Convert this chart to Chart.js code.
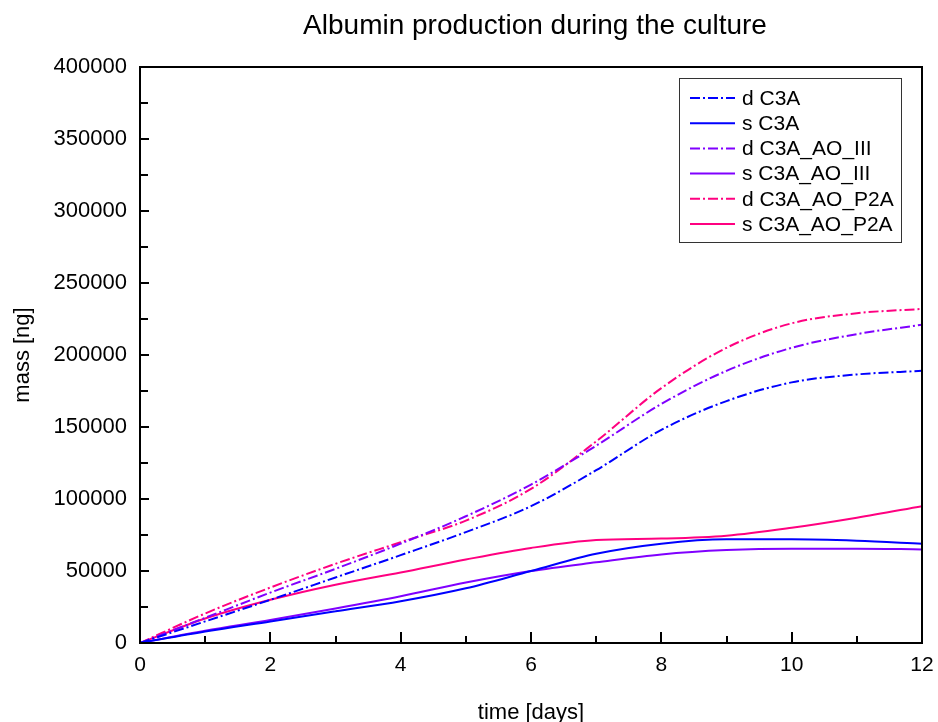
<!DOCTYPE html>
<html>
<head>
<meta charset="utf-8">
<title>Albumin production during the culture</title>
<script src="https://cdn.jsdelivr.net/npm/chart.js@4.4.1/dist/chart.umd.min.js"></script>
<style>
  html, body { margin: 0; padding: 0; background: #fff; }
</style>
</head>
<body>
<canvas id="albuminChart" width="938" height="722"></canvas>
<script>
// culture time in days
const days = [0, 1, 2, 3, 4, 5, 6, 7, 8, 9, 10, 11, 12];

// albumin mass [ng], d = dynamic, s = static culture
const dC3A      = [0, 15000, 30000, 45500, 61000, 77000, 95000, 120000, 148000, 168000, 181000, 186500, 189000];
const sC3A      = [0, 8000, 15000, 22000, 29000, 38000, 50000, 62000, 69000, 72000, 72000, 71000, 69000];
const dC3A_III  = [0, 17500, 35000, 51500, 69000, 88000, 110000, 137000, 166000, 189000, 205000, 214500, 221000];
const sC3A_III  = [0, 8500, 16000, 24000, 32500, 42000, 50000, 56000, 61500, 64500, 65500, 65500, 65000];
const dC3A_P2A  = [0, 20500, 38500, 55000, 70000, 85000, 107000, 140000, 177000, 205000, 222000, 229000, 232000];
const sC3A_P2A  = [0, 17000, 30000, 40500, 49000, 58000, 66000, 71500, 72500, 74500, 80000, 87000, 95000];

const seriesNames = ['d C3A', 's C3A', 'd C3A_AO_III', 's C3A_AO_III', 'd C3A_AO_P2A', 's C3A_AO_P2A'];
const seriesData = [dC3A, sC3A, dC3A_III, sC3A_III, dC3A_P2A, sC3A_P2A];
const seriesColors = ['#0000ff', '#0000ff', '#8000ff', '#8000ff', '#ff0080', '#ff0080'];

const yTicks = [0, 50000, 100000, 150000, 200000, 250000, 300000, 350000, 400000];
const xTicks = [0, 2, 4, 6, 8, 10, 12];

const FONT = "'Liberation Sans', Arial, sans-serif";
const dashDot = [10, 3, 2, 3];

Chart.defaults.font.family = FONT;
Chart.defaults.color = '#000';

// title centred over the plot area
const plotTitle = {
  id: 'plotTitle',
  afterDraw(chart) {
    const {ctx, chartArea} = chart;
    ctx.save();
    ctx.font = '28px ' + FONT;
    ctx.fillStyle = '#000';
    ctx.textAlign = 'center';
    ctx.textBaseline = 'alphabetic';
    ctx.fillText('Albumin production during the culture', (chartArea.left + chartArea.right) / 2 + 4, 34);
    ctx.restore();
  }
};

// closed frame with inward major/minor ticks on bottom and left axes
const frameTicks = {
  id: 'frameTicks',
  afterDatasetsDraw(chart) {
    const {ctx, chartArea: a, scales: {x, y}} = chart;
    ctx.save();
    ctx.strokeStyle = '#000';
    ctx.lineWidth = 2;
    ctx.strokeRect(a.left, a.top, a.right - a.left, a.bottom - a.top);
    ctx.beginPath();
    for (let d = x.min; d <= x.max; d += 1) {
      const px = Math.round(x.getPixelForValue(d));
      const len = d % 2 === 0 ? 11 : 7;
      ctx.moveTo(px, a.bottom);
      ctx.lineTo(px, a.bottom - len);
    }
    for (let v = y.min; v <= y.max; v += 25000) {
      const py = Math.round(y.getPixelForValue(v));
      const len = v % 50000 === 0 ? 9 : 8;
      ctx.moveTo(a.left, py);
      ctx.lineTo(a.left + len, py);
    }
    ctx.stroke();
    ctx.restore();
  }
};

// boxed legend inside the upper right corner of the plot
const innerLegend = {
  id: 'innerLegend',
  afterDraw(chart) {
    const {ctx, chartArea: a} = chart;
    const w = 222, h = 164, rowH = 25.2;
    const left = a.right - 21 - w, top = a.top + 11;
    ctx.save();
    ctx.fillStyle = '#fff';
    ctx.fillRect(left, top, w, h);
    ctx.strokeStyle = '#333';
    ctx.lineWidth = 1;
    ctx.strokeRect(left + 0.5, top + 0.5, w, h);
    ctx.font = '21px ' + FONT;
    ctx.textBaseline = 'middle';
    ctx.textAlign = 'left';
    chart.data.datasets.forEach((ds, i) => {
      const cy = top + 20 + i * rowH;
      ctx.strokeStyle = ds.borderColor;
      ctx.lineWidth = 2;
      ctx.setLineDash(ds.borderDash || []);
      ctx.beginPath();
      ctx.moveTo(left + 11, cy);
      ctx.lineTo(left + 56, cy);
      ctx.stroke();
      ctx.setLineDash([]);
      ctx.fillStyle = '#000';
      ctx.fillText(ds.label, left + 63, cy + 1);
    });
    ctx.restore();
  }
};

const datasets = seriesNames.map((name, i) => ({
  label: name,
  data: days.map((d, j) => ({x: d, y: seriesData[i][j]})),
  borderColor: seriesColors[i],
  borderWidth: 2,
  borderDash: name.startsWith('d ') ? dashDot : [],
  pointRadius: 0,
  cubicInterpolationMode: 'monotone',
  fill: false
}));

new Chart(document.getElementById('albuminChart'), {
  type: 'line',
  data: { datasets },
  options: {
    responsive: false,
    animation: false,
    layout: { padding: { top: 67, right: 16, bottom: 0, left: 0 } },
    plugins: {
      legend: { display: false },
      title: { display: false },
      tooltip: { enabled: false }
    },
    scales: {
      x: {
        type: 'linear',
        min: 0,
        max: 12,
        afterFit(scale) {
          scale.height = 79;
          scale.paddingLeft = 0;
          scale.paddingRight = 0;
        },
        afterBuildTicks(scale) { scale.ticks = xTicks.map(v => ({value: v})); },
        grid: { display: false, drawTicks: false },
        border: { display: false },
        ticks: { padding: 10, font: { size: 21 }, maxRotation: 0, autoSkip: false },
        title: {
          display: true,
          text: 'time [days]',
          font: { size: 22, lineHeight: 0.85 },
          padding: { top: 0, bottom: 0 }
        }
      },
      y: {
        min: 0,
        max: 400000,
        afterFit(scale) {
          scale.width = 140;
          scale.paddingTop = 0;
          scale.paddingBottom = 0;
        },
        afterBuildTicks(scale) { scale.ticks = yTicks.map(v => ({value: v})); },
        grid: { display: false, drawTicks: false },
        border: { display: false },
        ticks: {
          padding: 13,
          font: { size: 22 },
          autoSkip: false,
          callback: v => String(v)
        },
        title: {
          display: true,
          text: 'mass [ng]',
          font: { size: 22 },
          padding: { top: 10, bottom: 0 }
        }
      }
    }
  },
  plugins: [plotTitle, frameTicks, innerLegend]
});
</script>
</body>
</html>
